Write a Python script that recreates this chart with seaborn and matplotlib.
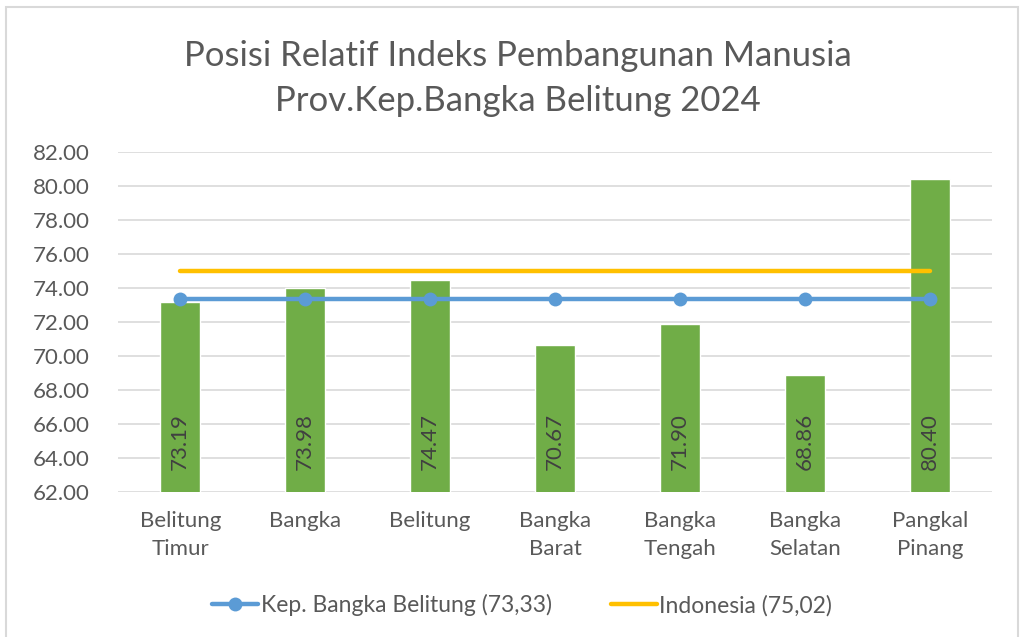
import numpy as np
import pandas as pd
import seaborn as sns
import matplotlib.pyplot as plt
from matplotlib.patches import Rectangle
from matplotlib.lines import Line2D

# data
kabupaten = ['Belitung\nTimur', 'Bangka', 'Belitung', 'Bangka\nBarat',
             'Bangka\nTengah', 'Bangka\nSelatan', 'Pangkal\nPinang']
ipm = [73.19, 73.98, 74.47, 70.67, 71.90, 68.86, 80.40]
ipm_prov = 73.33
ipm_indonesia = 75.02
y_ticks = [62, 64, 66, 68, 70, 72, 74, 76, 78, 80, 82]

sns.set_theme(style='white')
plt.rcParams['font.family'] = ['Lato', 'DejaVu Sans']
text_col = '#595959'

df = pd.DataFrame({'kab': kabupaten, 'ipm': ipm})

fig = plt.figure(figsize=(10.24, 6.37), dpi=100)
ax = fig.add_axes([0.115, 0.2276, 0.854, 0.5338])

sns.barplot(data=df, x='kab', y='ipm', color='#70AD47', width=0.32,
            saturation=1, ax=ax, zorder=2)

pos = np.arange(len(kabupaten))
sns.lineplot(x=pos, y=[ipm_indonesia] * len(pos), color='#FFC000',
             linewidth=3.2, ax=ax, zorder=3, solid_capstyle='round')
sns.lineplot(x=pos, y=[ipm_prov] * len(pos), color='#5B9BD5',
             linewidth=3.2, marker='o', markersize=10, markeredgewidth=0,
             ax=ax, zorder=4, solid_capstyle='round')

# label nilai di dalam batang
for i, v in enumerate(ipm):
    ax.annotate(f'{v:.2f}', xy=(i, 62), xytext=(0, 16), textcoords='offset points',
                rotation=90, ha='center', va='bottom', fontsize=16, color='#404040',
                zorder=5)

ax.set_ylim(62, 82)
ax.set_xlim(-0.5, len(kabupaten) - 0.5)
ax.set_yticks(y_ticks)
ax.set_yticklabels([f'{t:.2f}' for t in y_ticks])
ax.yaxis.grid(True, color='#D9D9D9', linewidth=1.2, zorder=0)
ax.set_axisbelow(True)
for s in ax.spines.values():
    s.set_visible(False)
ax.set_xlabel('')
ax.set_ylabel('')
ax.tick_params(axis='both', length=0, labelsize=16, labelcolor=text_col)
ax.tick_params(axis='y', pad=20)
ax.tick_params(axis='x', pad=14)
for lbl in ax.get_xticklabels():
    lbl.set_linespacing(1.45)

fig.text(0.506, 0.877, 'Posisi Relatif Indeks Pembangunan Manusia\nProv.Kep.Bangka Belitung 2024',
         ha='center', va='center', fontsize=25, color=text_col, linespacing=1.5)

handles = [Line2D([], [], color='#5B9BD5', linewidth=3.2, marker='o', markersize=10,
                  markeredgewidth=0),
           Line2D([], [], color='#FFC000', linewidth=3.2)]
fig.legend(handles, ['Kep. Bangka Belitung (73,33)', 'Indonesia (75,02)'],
           loc='center', bbox_to_anchor=(0.51, 0.05), ncol=2, frameon=False,
           fontsize=16.5, labelcolor=text_col, handlelength=2.0, handletextpad=0.1,
           columnspacing=2.6)

fig.patches.append(Rectangle((0.006, -0.01), 0.988, 0.999, transform=fig.transFigure,
                             fill=False, edgecolor='#D9D9D9', linewidth=1.5))

fig.savefig('out.png', dpi=100)
